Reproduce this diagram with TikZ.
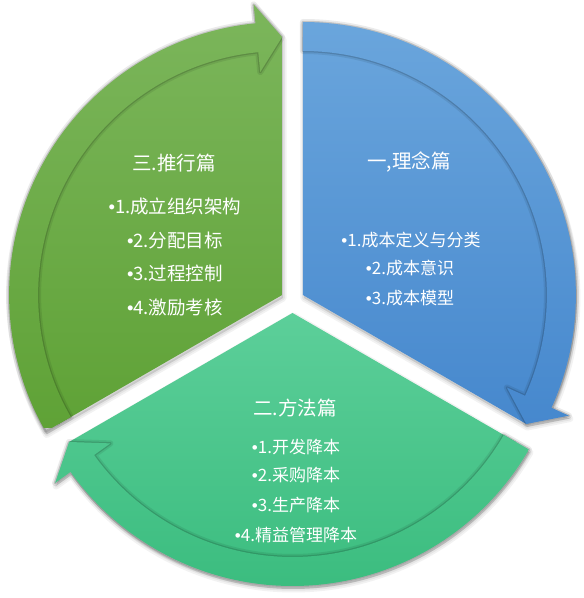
\documentclass[tikz,border=0pt]{standalone}
\usepackage{fontspec}
\setmainfont{Noto Sans CJK SC}
\newfontfamily\bulfont{Liberation Sans}
\newcommand\bul{{\bulfont •}}
\definecolor{oliveTop}{HTML}{7CB65C}
\definecolor{oliveBot}{HTML}{5FA236}
\definecolor{blueTop}{HTML}{6CA7DD}
\definecolor{blueBot}{HTML}{4587CD}
\definecolor{mintTop}{HTML}{5ED09B}
\definecolor{mintBot}{HTML}{3ABC7E}
\def\ArrowShape#1#2{(#1:273pt) arc[start angle=#1,end angle=#2+5.6,radius=273pt] -- (#2+5.6:292pt) -- (#2:258pt) -- (#2+5.6:224pt) -- (#2+5.6:244pt) arc[start angle=#2+5.6,end angle=#1,radius=244pt] -- cycle}
\def\BodyShape#1#2{(0,0) -- (#1:258pt) arc[start angle=#1,end angle=#2,radius=258pt] -- cycle}
\tikzset{
  ttl/.style={text=white, font=\fontsize{19.5}{22}\selectfont, inner sep=0pt},
  itmL/.style={text=white, font=\fontsize{18.5}{22}\selectfont, inner sep=0pt},
  itm/.style={text=white, font=\fontsize{17}{20}\selectfont, inner sep=0pt},
  softshadow/.style={black, opacity=#1, line join=round},
}
\begin{document}
\begin{tikzpicture}[x=1pt,y=1pt]
\useasboundingbox (0,0) rectangle (584,598);
\coordinate (C) at (292.5,297);
\coordinate (CL) at (282.1,303);
\coordinate (CB) at (302.9,303);
\coordinate (CG) at (292.5,285);
\coordinate (Lr1) at (0,598);   \coordinate (Lr2) at (300,170);
\coordinate (Br1) at (285,598); \coordinate (Br2) at (584,160);
\coordinate (Gr1) at (40,300);  \coordinate (Gr2) at (560,0);

% drop shadows
\foreach \cc/\t/\h in {CL/210/90, CB/90/-30, CG/330/210}{
  \begin{scope}[shift={(\cc)}]
    \begin{scope}[shift={(1,-3)}]
      \fill[softshadow=0.12] \BodyShape{\t}{\h} \ArrowShape{\t}{\h};
      \draw[softshadow=0.05, line width=7pt] \BodyShape{\t}{\h} \ArrowShape{\t}{\h};
      \draw[softshadow=0.06, line width=3.5pt] \BodyShape{\t}{\h} \ArrowShape{\t}{\h};
    \end{scope}
  \end{scope}
}

% sectors
\foreach \cc/\t/\h/\ct/\cb/\ra/\rb in {CL/210/90/oliveTop/oliveBot/Lr1/Lr2, CB/90/-30/blueTop/blueBot/Br1/Br2, CG/330/210/mintTop/mintBot/Gr1/Gr2}{
  \begin{scope}[shift={(\cc)}]
    \begin{scope}
      \clip \BodyShape{\t}{\h};
      \shade[top color=\ct, bottom color=\cb] (\ra) rectangle (\rb);
    \end{scope}
    \draw[softshadow=0.08, line width=6pt] \ArrowShape{\t}{\h};
    \draw[softshadow=0.14, line width=2.5pt] \ArrowShape{\t}{\h};
    \begin{scope}
      \clip \ArrowShape{\t}{\h};
      \shade[top color=\ct, bottom color=\cb] (\ra) rectangle (\rb);
    \end{scope}
  \end{scope}
}

% texts: left
\node[ttl]  (lt)  at (174,435) {三.推行篇};
\node[itmL] (l1)  at (175,392) {\bul1.成立组织架构};
\node[itmL] (l2)  at (175,358) {\bul2.分配目标};
\node[itmL] (l3)  at (175,325) {\bul3.过程控制};
\node[itmL] (l4)  at (175,291) {\bul4.激励考核};
% right
\node[ttl]  (rt)  at (409,436) {一,理念篇};
\node[itm]  (r1)  at (411,358) {\bul1.成本定义与分类};
\node[itm]  (r2)  at (410,330) {\bul2.成本意识};
\node[itm]  (r3)  at (410,300) {\bul3.成本模型};
% bottom
\node[ttl]  (bt)  at (295,190) {二.方法篇};
\node[itm]  (b1)  at (296,151) {\bul1.开发降本};
\node[itm]  (b2)  at (296,123) {\bul2.采购降本};
\node[itm]  (b3)  at (296,93)  {\bul3.生产降本};
\node[itm]  (b4)  at (296,63)  {\bul4.精益管理降本};
\end{tikzpicture}
\end{document}
